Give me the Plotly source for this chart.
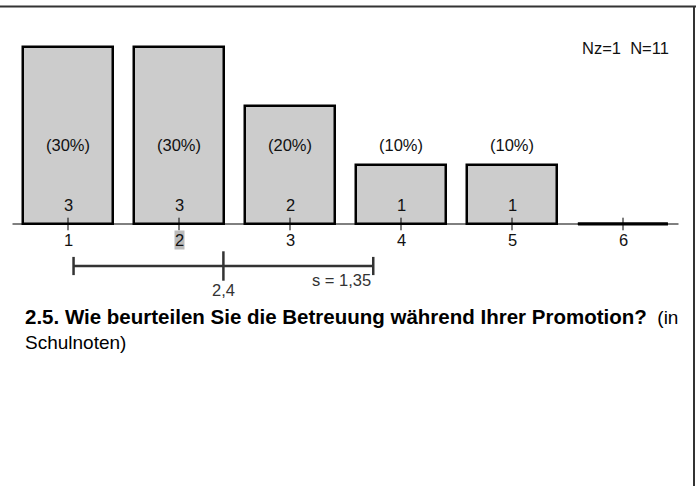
import plotly.graph_objects as go

categories = [1, 2, 3, 4, 5, 6]
tick_labels = ["1", "2", "3", "4", "5", "6"]
counts = [3, 3, 2, 1, 1, 0]
percents = [30, 30, 20, 10, 10, 0]
mean_value = 2.4
std_value = 1.35
mean_label = "2,4"
std_label = "s = 1,35"
n_label = "Nz=1  N=11"
highlight_tick = "2"
title_bold = "2.5. Wie beurteilen Sie die Betreuung während Ihrer Promotion?"
title_rest = "(in<br>Schulnoten)"

W, H = 696, 486
FONT = "Liberation Sans, Arial, sans-serif"
LBL = 16.5
# pixel mapping helpers (layout only)
px_per_x = 111.0
x0_px = 68.0
px_per_y = 59.0
base_px = 224.0
x_min = 1 - x0_px / px_per_x
x_max = 1 + (W - x0_px) / px_per_x
y_max = base_px / px_per_y
y_min = -(H - base_px) / px_per_y


def ypx(p):
    return (base_px - p) / px_per_y


bar_w = 0.81

fig = go.Figure()
fig.add_trace(go.Bar(
    x=categories, y=counts, width=bar_w,
    marker=dict(color="#cccccc", line=dict(color="#000000", width=2.5)),
    hoverinfo="skip", showlegend=False,
))

# zero-count bars drawn as baseline outline
for c, n in zip(categories, counts):
    if n == 0:
        fig.add_shape(type="line", x0=c - bar_w / 2, x1=c + bar_w / 2, y0=0, y1=0,
                      line=dict(color="#000000", width=3))

# axis line
fig.add_shape(type="line", x0=categories[0] - 0.5, x1=categories[-1] + 0.5, y0=0, y1=0,
              line=dict(color="#000000", width=1))

# ticks
fig.add_trace(go.Scatter(
    x=categories, y=[0] * len(categories), mode="markers",
    marker=dict(symbol="line-ns", size=9, line=dict(color="#000000", width=1)),
    hoverinfo="skip", showlegend=False,
))

annotations = []
for c, lab in zip(categories, tick_labels):
    annotations.append(dict(
        x=c, y=ypx(240), xref="x", yref="y", text=lab, showarrow=False,
        font=dict(family=FONT, size=LBL, color="#111111"),
        bgcolor="#bbbbbb" if lab == highlight_tick else "rgba(0,0,0,0)",
        borderpad=0,
    ))

for c, n, p in zip(categories, counts, percents):
    if n == 0:
        continue
    annotations.append(dict(
        x=c, y=ypx(145), xref="x", yref="y", text=f"({p}%)", showarrow=False,
        font=dict(family=FONT, size=LBL, color="#111111"),
    ))
    annotations.append(dict(
        x=c, y=ypx(205), xref="x", yref="y", text=str(n), showarrow=False,
        font=dict(family=FONT, size=LBL, color="#111111"),
    ))

# mean +- s line
y_mean = ypx(266)
fig.add_trace(go.Scatter(
    x=[mean_value - std_value, mean_value + std_value], y=[y_mean, y_mean],
    mode="lines+markers",
    line=dict(color="#333333", width=2.5),
    marker=dict(symbol="line-ns", size=13, line=dict(color="#333333", width=2.5)),
    hoverinfo="skip", showlegend=False,
))
fig.add_trace(go.Scatter(
    x=[mean_value], y=[y_mean], mode="markers",
    marker=dict(symbol="line-ns", size=21, line=dict(color="#333333", width=2.5)),
    hoverinfo="skip", showlegend=False,
))
annotations.append(dict(
    x=mean_value, y=ypx(290), xref="x", yref="y", text=mean_label, showarrow=False,
    font=dict(family=FONT, size=LBL, color="#333333"),
))
annotations.append(dict(
    x=mean_value + std_value, y=ypx(280), xref="x", yref="y", text=std_label,
    showarrow=False, xanchor="right",
    font=dict(family=FONT, size=LBL, color="#333333"),
))

annotations.append(dict(
    x=671 / W, y=1 - 37 / H, xref="paper", yref="paper", text=n_label,
    showarrow=False, xanchor="right",
    font=dict(family=FONT, size=LBL, color="#111111"),
))

annotations.append(dict(
    x=23 / W, y=1 - 329 / H, xref="paper", yref="paper",
    text=f"<span style='font-size:20.5px'><b>{title_bold}</b></span>  {title_rest}",
    showarrow=False,
    xanchor="left", yanchor="middle", align="left",
    font=dict(family=FONT, size=19, color="#000000"),
))

# frame lines
fig.add_shape(type="line", xref="paper", yref="paper", x0=0, x1=1,
              y0=1 - 6.5 / H, y1=1 - 6.5 / H, line=dict(color="#333333", width=2))
fig.add_shape(type="line", xref="paper", yref="paper", x0=694 / W, x1=694 / W,
              y0=1 - 6.5 / H, y1=0, line=dict(color="#333333", width=2))

fig.update_layout(
    width=W, height=H, margin=dict(l=0, r=0, t=0, b=0),
    paper_bgcolor="white", plot_bgcolor="white",
    xaxis=dict(range=[x_min, x_max], visible=False, fixedrange=True),
    yaxis=dict(range=[y_min, y_max], visible=False, fixedrange=True),
    annotations=annotations, bargap=0,
)

fig.write_html("out.html", config={"displayModeBar": False},
               post_script="document.body.style.margin='0px';document.body.style.overflow='hidden';")
